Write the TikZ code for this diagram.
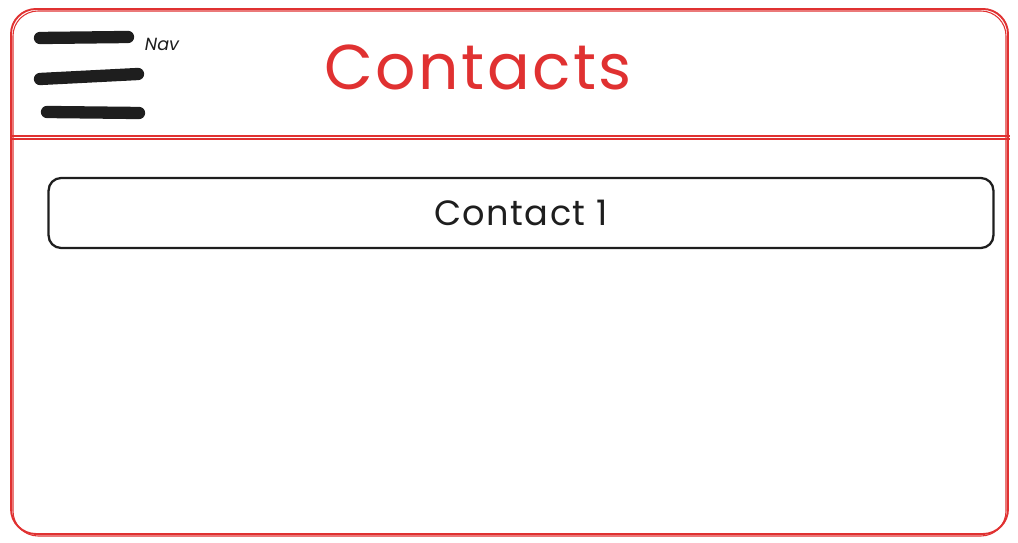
\documentclass[tikz,border=0pt]{standalone}
\usepackage{fontspec}
\setmainfont{Poppins}
\newfontfamily\hand[LetterSpace=4]{Poppins}
\definecolor{red1}{HTML}{E03131}
\definecolor{ink}{HTML}{1E1E1E}
\tikzset{
  frame/.style={draw=red1,line width=1.1pt,rounded corners=0.5cm},
  card/.style={draw=ink,line width=1.3pt,rounded corners=0.25cm,minimum width=18.9cm,minimum height=1.4cm,font=\hand\fontsize{20}{24}\selectfont,text=ink},
  bar/.style={draw=ink,line width=7pt,line cap=round}
}
\begin{document}
\begin{tikzpicture}[x=0.02cm,y=-0.02cm]
\useasboundingbox (0,0) rectangle (1018,543);
\draw[frame] (11,9) rectangle (1008,534);
\draw[frame,line width=0.6pt] (13,11) rectangle (1006,536);
\draw[red1,line width=1.1pt] (10,139) -- (1010,139);
\draw[red1,line width=0.6pt] (10,136) -- (1010,136);

\draw[bar] (40,38) -- (128,37);
\draw[bar] (40,79) -- (138,74);
\draw[bar] (47,112) -- (139,113);
\node[text=ink,font=\itshape\fontsize{10}{12}\selectfont] (nav) at (162,44) {Nav};

\node[text=red1,font=\hand\fontsize{36}{40}\selectfont] (title) at (478,67) {Contacts};

\node[card] (contact1) at (521,213) {Contact 1};
\end{tikzpicture}
\end{document}
